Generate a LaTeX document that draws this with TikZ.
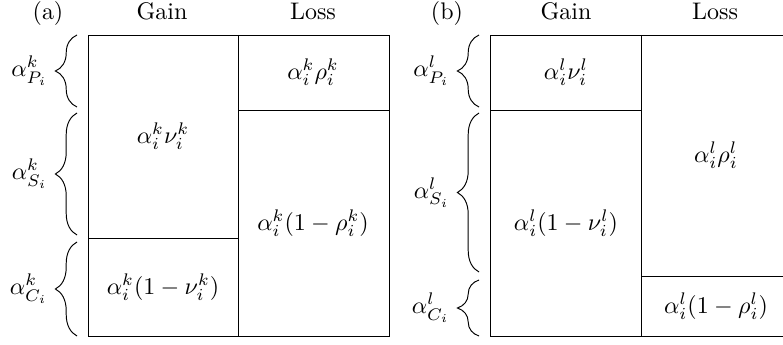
\documentclass[tikz,border=0pt]{standalone}
\usepackage{amsmath,amssymb}
\usetikzlibrary{decorations.pathreplacing}

\begin{document}
\begin{tikzpicture}[
    x=0.01465cm, y=-0.01465cm,
    every node/.style = {inner sep=1pt},
    head/.style       = {anchor=base},
    share/.style      = {decorate, decoration={brace, amplitude=9pt}},
    ]
  \useasboundingbox (0,0) rectangle (783,345);

  % panel (a) ------------------------------------------------
  \node[head] (aname) at (48,20)  {(a)};
  \node[head] (again) at (162,20) {Gain};
  \node[head] (aloss) at (313,20) {Loss};

  \draw (88,35) rectangle (389,336);
  \draw (238,35) -- (238,336)
        (88,238) -- (238,238)
        (238,110) -- (389,110);

  \node (agp) at (163,136) {$\alpha_i^k\nu_i^k$};
  \node (agc) at (163,287) {$\alpha_i^k(1-\nu_i^k)$};
  \node (alp) at (313,72)  {$\alpha_i^k\rho_i^k$};
  \node (alc) at (313,223) {$\alpha_i^k(1-\rho_i^k)$};

  \draw[share] (77,107) -- (77,35)
        node[midway, left=11pt] (aP) {$\alpha^k_{P_i}$};
  \draw[share] (77,235) -- (77,113)
        node[midway, left=11pt] (aS) {$\alpha^k_{S_i}$};
  \draw[share] (77,336) -- (77,242)
        node[midway, left=11pt] (aC) {$\alpha^k_{C_i}$};

  % panel (b) ------------------------------------------------
  \node[head] (bname) at (447,20) {(b)};
  \node[head] (bgain) at (566,20) {Gain};
  \node[head] (bloss) at (715,20) {Loss};

  \draw (490,35) rectangle (792,336);
  \draw (641,35) -- (641,336)
        (490,110) -- (641,110)
        (641,276) -- (792,276);

  \node (bgp) at (566,72)  {$\alpha_i^l\nu_i^l$};
  \node (bgc) at (566,223) {$\alpha_i^l(1-\nu_i^l)$};
  \node (blp) at (716,155) {$\alpha_i^l\rho_i^l$};
  \node (blc) at (716,306) {$\alpha_i^l(1-\rho_i^l)$};

  \draw[share] (479,107) -- (479,35)
        node[midway, left=11pt] (bP) {$\alpha^l_{P_i}$};
  \draw[share] (479,272) -- (479,113)
        node[midway, left=11pt] (bS) {$\alpha^l_{S_i}$};
  \draw[share] (479,336) -- (479,280)
        node[midway, left=11pt] (bC) {$\alpha^l_{C_i}$};
\end{tikzpicture}
\end{document}
